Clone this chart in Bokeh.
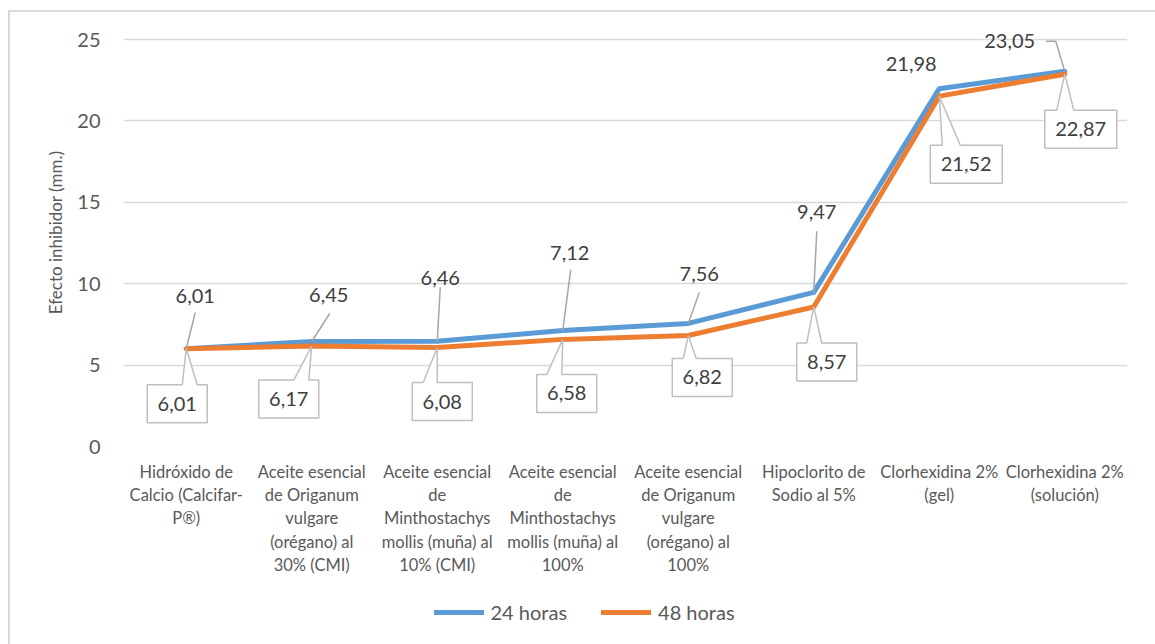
import numpy as np
from bokeh.plotting import figure
from bokeh.layouts import column
from bokeh.models import (ColumnDataSource, FixedTicker, Legend, LegendItem,
                          Range1d, LabelSet)
from bokeh.core.properties import value
from bokeh.embed import file_html
from bokeh.resources import INLINE

# ---- data -------------------------------------------------------------
categories = [
    "Hidróxido de Calcio (Calcifar-P®)",
    "Aceite esencial de Origanum vulgare (orégano) al 30% (CMI)",
    "Aceite esencial de Minthostachys mollis (muña) al 10% (CMI)",
    "Aceite esencial de Minthostachys mollis (muña) al 100%",
    "Aceite esencial de Origanum vulgare (orégano) al 100%",
    "Hipoclorito de Sodio al 5%",
    "Clorhexidina 2% (gel)",
    "Clorhexidina 2% (solución)",
]
tick_labels = [
    "Hidróxido de\nCalcio (Calcifar-\nP®)",
    "Aceite esencial\nde Origanum\nvulgare\n(orégano) al\n30% (CMI)",
    "Aceite esencial\nde\nMinthostachys\nmollis (muña) al\n10% (CMI)",
    "Aceite esencial\nde\nMinthostachys\nmollis (muña) al\n100%",
    "Aceite esencial\nde Origanum\nvulgare\n(orégano) al\n100%",
    "Hipoclorito de\nSodio al 5%",
    "Clorhexidina 2%\n(gel)",
    "Clorhexidina 2%\n(solución)",
]
horas_24 = [6.01, 6.45, 6.46, 7.12, 7.56, 9.47, 21.98, 23.05]
horas_48 = [6.01, 6.17, 6.08, 6.58, 6.82, 8.57, 21.52, 22.87]
series_names = ["24 horas", "48 horas"]
y_ticks = [0, 5, 10, 15, 20, 25]

# ---- layout (page pixels) ---------------------------------------------
PAGE_W, PAGE_H = 1155, 644
BOX_X, BOX_Y, BORDER = 8, 10, 2         # chart box offset and border width
X0, Y0 = BOX_X + BORDER, BOX_Y + BORDER  # canvas origin on the page
LEG_TOP = 590                            # legend strip starts here
W = PAGE_W - X0
H_MAIN, H_LEG = LEG_TOP - Y0, PAGE_H - LEG_TOP
F_LEFT, F_RIGHT = 123 - X0, 1127 - X0
F_TOP, F_BOTTOM = 18 - Y0, 446 - Y0      # frame reaches a bit above the top gridline
Y_MAX = 25
PX_Y = 407 / Y_MAX                       # pixels per y unit (0 -> 25 spans 407 px)
Y_TOP = (F_BOTTOM - F_TOP) / PX_Y
FONT = "Lato"
BLUE, ORANGE = "#5b9bd5", "#ed7d31"
GRID, LEADER, TXT, AXTXT = "#d9d9d9", "#a6a6a6", "#404040", "#595959"

n = len(categories)
xs = np.arange(n) + 0.5
PX_X = (F_RIGHT - F_LEFT) / n            # pixels per x unit


def fmt(v):
    return f"{v:.2f}".replace(".", ",")


def to_data(i, v, dx, dy):
    """point i/value v shifted by a pixel offset (dy positive = downwards)"""
    return xs[i] + dx / PX_X, v - dy / PX_Y


p = figure(width=W, height=H_MAIN, output_backend="svg", toolbar_location=None,
           x_range=Range1d(0, n), y_range=Range1d(0, Y_TOP),
           min_border_left=F_LEFT, min_border_right=W - F_RIGHT,
           min_border_top=F_TOP, min_border_bottom=H_MAIN - F_BOTTOM)
p.outline_line_color = None
p.background_fill_color = "white"
p.border_fill_color = "white"

# axes
p.xaxis.ticker = FixedTicker(ticks=list(xs))
p.xaxis.major_label_overrides = {float(x): t for x, t in zip(xs, tick_labels)}
p.xaxis.major_label_text_font = FONT
p.xaxis.major_label_text_font_size = "16.5px"
p.xaxis.major_label_text_color = AXTXT
p.xaxis.major_label_text_line_height = 1.17
p.xaxis.major_label_standoff = 15
p.xaxis.axis_line_color = None
p.xaxis.major_tick_line_color = None
p.xaxis.major_tick_out = 0
p.xaxis.minor_tick_line_color = None

p.yaxis.ticker = FixedTicker(ticks=y_ticks)
p.yaxis.major_label_text_font = FONT
p.yaxis.major_label_text_font_size = "20px"
p.yaxis.major_label_text_color = AXTXT
p.yaxis.major_label_standoff = 23
p.yaxis.axis_line_color = None
p.yaxis.major_tick_line_color = None
p.yaxis.major_tick_out = 0
p.yaxis.minor_tick_line_color = None
p.yaxis.axis_label = "Efecto inhibidor (mm.)"
p.yaxis.axis_label_text_font = FONT
p.yaxis.axis_label_text_font_size = "17px"
p.yaxis.axis_label_text_font_style = "normal"
p.yaxis.axis_label_text_color = AXTXT
p.yaxis.axis_label_standoff = 8

p.xgrid.grid_line_color = None
p.ygrid.grid_line_color = GRID
p.ygrid.grid_line_width = 1.5

# series lines
r24 = p.line(xs, horas_24, line_color=BLUE, line_width=5, line_join="round", line_cap="round")
r48 = p.line(xs, horas_48, line_color=ORANGE, line_width=5, line_join="round", line_cap="round")

# ---- 24 h labels: text above with leader lines ------------------------
lab24_text = [(9, -53), (17, -46), (3, -63), (7, -78), (11, -49), (3, -80), (-28, -25), (-55, -30)]
lab24_leader = [[(9, -36)], [(18, -28)], [(3, -54)], [(8, -61)], [(11, -31)], [(3, -61)], [],
                [(-19, -30), (-9, -30)]]

lx, ly = [], []
for i, v in enumerate(horas_24):
    pts = lab24_leader[i]
    if not pts:
        continue
    seg = [to_data(i, v, dx, dy) for dx, dy in pts] + [to_data(i, v, 0, 0)]
    lx.append([s[0] for s in seg])
    ly.append([s[1] for s in seg])
p.multi_line(lx, ly, line_color=LEADER, line_width=1.5)

t24 = [to_data(i, v, *lab24_text[i]) for i, v in enumerate(horas_24)]
src24 = ColumnDataSource(dict(x=[t[0] for t in t24], y=[t[1] for t in t24],
                              text=[fmt(v) for v in horas_24]))

# ---- 48 h labels: boxed callouts below --------------------------------
box48_center = [(-9, 55), (-23, 53), (5, 54), (4, 54), (14, 42), (13, 55), (27, 68), (16, 55)]
box48_base = [(35, 50), (35, 50), (11, 25), (10, 25), (11, 24), (10, 25), (12, 30), (12, 29)]
BOX_H = 38

bx, by, tx, ty = [], [], [], []
for i, v in enumerate(horas_48):
    label = fmt(v)
    w = 12 * len(label) + 12
    cx, cy = box48_center[i]
    L, R, T, B = cx - w / 2, cx + w / 2, cy - BOX_H / 2, cy + BOX_H / 2
    b1, b2 = box48_base[i]
    poly = [(L, T), (L + b1, T), (0, 0), (L + b2, T), (R, T), (R, B), (L, B)]
    dpts = [to_data(i, v, dx, dy) for dx, dy in poly]
    bx.append([d[0] for d in dpts])
    by.append([d[1] for d in dpts])
    c = to_data(i, v, cx, cy)
    tx.append(c[0])
    ty.append(c[1])
p.patches(bx, by, fill_color="white", line_color="#bfbfbf", line_width=1.5)
src48 = ColumnDataSource(dict(x=tx, y=ty, text=[fmt(v) for v in horas_48]))

for src in (src24, src48):
    p.add_layout(LabelSet(x="x", y="y", text="text", source=src, text_font=value(FONT),
                          text_font_size=value("20px"), text_color=TXT, text_align="center",
                          text_baseline="middle", level="overlay"))

# ---- legend strip under the category labels ---------------------------
# same side borders as the chart, so both frames line up
pl = figure(width=W, height=H_LEG, output_backend="svg", toolbar_location=None,
            x_axis_type=None, y_axis_type=None, x_range=Range1d(0, 1), y_range=Range1d(0, 1),
            min_border_left=F_LEFT, min_border_right=W - F_RIGHT,
            min_border_top=0, min_border_bottom=0)
pl.outline_line_color = None
pl.grid.grid_line_color = None
# legend keys: the same series, lying outside this strip's visible range
k24 = pl.line(xs, horas_24, line_color=BLUE, line_width=5, line_cap="round")
k48 = pl.line(xs, horas_48, line_color=ORANGE, line_width=5, line_cap="round")
legend = Legend(items=[LegendItem(label=series_names[0], renderers=[k24]),
                       LegendItem(label=series_names[1], renderers=[k48])],
                orientation="horizontal", location=(433.5 - 123, 20),
                padding=0, margin=0, spacing=34, label_standoff=7,
                glyph_width=50, glyph_height=20, label_height=20,
                label_text_font=FONT, label_text_font_size="20px",
                label_text_color=AXTXT, background_fill_alpha=0,
                border_line_color=None)
pl.add_layout(legend, "center")

layout = column(p, pl, spacing=0)
layout.styles = {"margin-left": f"{BOX_X}px", "margin-top": f"{BOX_Y}px",
                 "border-left": f"{BORDER}px solid {GRID}",
                 "border-top": f"{BORDER}px solid {GRID}"}

open("out.html", "w").write(file_html(layout, INLINE))
